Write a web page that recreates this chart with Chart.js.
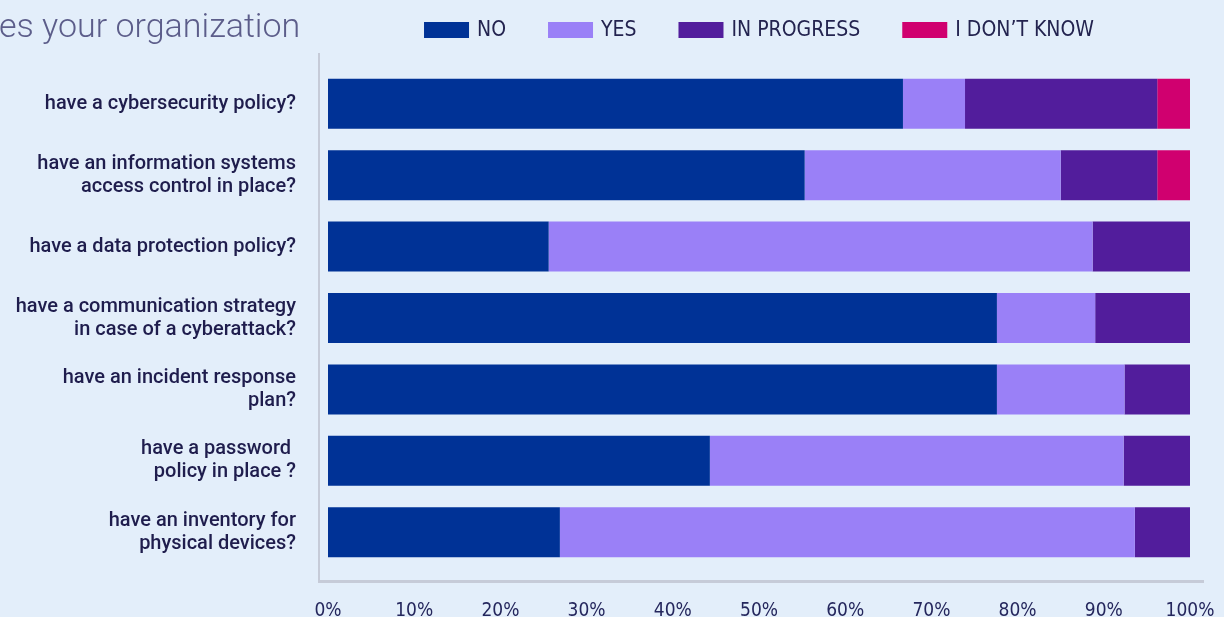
<!DOCTYPE html>
<html>
<head>
<meta charset="utf-8">
<title>Cybersecurity practices</title>
<script src="https://cdn.jsdelivr.net/npm/chart.js@4.4.1/dist/chart.umd.min.js"></script>
<style>
  html, body { margin: 0; padding: 0; background: #e3eefa; overflow: hidden; }
  #wrap { width: 1224px; height: 617px; position: relative; }
</style>
</head>
<body>
<div id="wrap"><canvas id="chart"></canvas></div>
<script>
const heading = "Does your organization";

const questions = [
  "have a cybersecurity policy?",
  ["have an information systems", "access control in place?"],
  "have a data protection policy?",
  ["have a communication strategy", "in case of a cyberattack?"],
  ["have an incident response", "plan?"],
  ["have a password ", "policy in place ?"],
  ["have an inventory for", "physical devices?"],
];

// share of answers per question, in %
const noValues = [66.7, 55.3, 25.6, 77.6, 77.6, 44.3, 26.9];
const yesValues = [7.2, 29.7, 63.1, 11.4, 14.8, 48.0, 66.7];
const inProgressValues = [22.3, 11.2, 11.3, 11.0, 7.6, 7.7, 6.4];
const dontKnowValues = [3.8, 3.8, 0, 0, 0, 0, 0];

const xTicks = [0, 10, 20, 30, 40, 50, 60, 70, 80, 90, 100];

const BG = "#e3eefa";
const labelFont = "Roboto, 'Noto Sans', sans-serif";
const condensedFont = "'DejaVu Sans Condensed', 'Liberation Sans Narrow', sans-serif";

const background = {
  id: "background",
  beforeDraw(chart) {
    const { ctx, width, height } = chart;
    ctx.save();
    ctx.fillStyle = BG;
    ctx.fillRect(0, 0, width, height);
    ctx.restore();
  },
};

// thin frame left of and under the bars
const axisFrame = {
  id: "axisFrame",
  beforeDatasetsDraw(chart) {
    const { ctx, chartArea: a } = chart;
    ctx.save();
    ctx.strokeStyle = "#c6cbd8";
    ctx.lineWidth = 2;
    ctx.beginPath();
    ctx.moveTo(a.left - 9, a.top - 15);
    ctx.lineTo(a.left - 9, a.bottom + 12);
    ctx.stroke();
    ctx.lineWidth = 3;
    ctx.beginPath();
    ctx.moveTo(a.left - 10, a.bottom + 13.5);
    ctx.lineTo(a.right + 14, a.bottom + 13.5);
    ctx.stroke();
    ctx.restore();
  },
};

// heading on the left, legend centred over the bars, same row
const headerRow = {
  id: "headerRow",
  afterDraw(chart) {
    const { ctx, chartArea: a } = chart;
    ctx.save();
    ctx.font = "300 34px Roboto, sans-serif";
    ctx.fillStyle = "#5c5d8a";
    ctx.textAlign = "left";
    ctx.textBaseline = "alphabetic";
    ctx.fillText(heading, -ctx.measureText("Do").width - 1, 37);

    ctx.font = "500 21px " + condensedFont;
    ctx.textBaseline = "middle";
    const box = 45, gap = 8, spacing = 42;
    const items = chart.data.datasets.map(ds => ({
      text: ds.label,
      color: ds.backgroundColor,
      w: ctx.measureText(ds.label).width,
    }));
    const total = items.reduce((s, it) => s + box + gap + it.w, 0) + spacing * (items.length - 1);
    let x = (a.left + a.right) / 2 - total / 2;
    items.forEach(it => {
      ctx.fillStyle = it.color;
      ctx.fillRect(x, 22, box, 16);
      ctx.fillStyle = "#23234f";
      ctx.fillText(it.text, x + box + gap, 31);
      x += box + gap + it.w + spacing;
    });
    ctx.restore();
  },
};

new Chart(document.getElementById("chart"), {
  type: "bar",
  data: {
    labels: questions,
    datasets: [
      { label: "NO", data: noValues, backgroundColor: "#003296" },
      { label: "YES", data: yesValues, backgroundColor: "#9a80f7" },
      { label: "IN PROGRESS", data: inProgressValues, backgroundColor: "#521d9c" },
      { label: "I DON’T KNOW", data: dontKnowValues, backgroundColor: "#d0006f" },
    ],
  },
  options: {
    indexAxis: "y",
    responsive: true,
    maintainAspectRatio: false,
    animation: false,
    layout: { padding: { top: 68, right: 34, left: 0, bottom: 0 } },
    datasets: {
      bar: { categoryPercentage: 1, barPercentage: 0.7, borderWidth: 0 },
    },
    scales: {
      x: {
        stacked: true,
        min: 0,
        max: 100,
        afterBuildTicks: scale => {
          scale.ticks = xTicks.map(v => ({ value: v }));
        },
        afterFit: scale => {
          scale.height = 49;
          scale.paddingLeft = 0;
          scale.paddingRight = 0;
        },
        grid: { display: false, drawTicks: false },
        border: { display: false },
        ticks: {
          padding: 32,
          color: "#25275d",
          font: { family: condensedFont, size: 19, weight: 500 },
          callback: v => v + "%",
        },
      },
      y: {
        stacked: true,
        afterFit: scale => {
          scale.width = 328;
        },
        grid: { display: false, drawTicks: false },
        border: { display: false },
        ticks: {
          padding: 32,
          color: "#1f1d4d",
          font: { family: labelFont, size: 20, weight: 500, lineHeight: 1.15 },
        },
      },
    },
    plugins: {
      legend: { display: false },
      tooltip: { enabled: false },
    },
  },
  plugins: [background, axisFrame, headerRow],
});
</script>
</body>
</html>
